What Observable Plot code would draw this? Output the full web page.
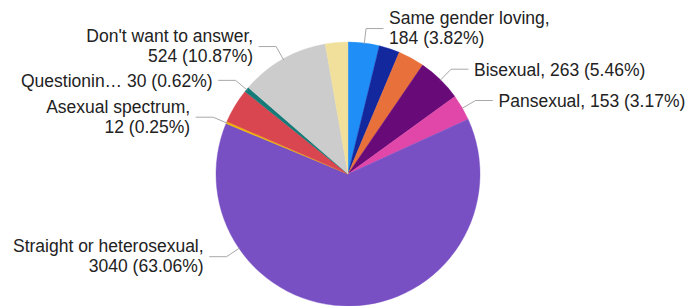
<!DOCTYPE html>
<html><head><meta charset="utf-8">
<script src="https://cdn.jsdelivr.net/npm/d3@7"></script>
<script src="https://cdn.jsdelivr.net/npm/@observablehq/plot@0.6"></script>
<style>html,body{margin:0;padding:0;background:#fff}svg{display:block}</style>
</head><body><div id="chart"></div>
<script>
// Slices in clockwise order from 12 o'clock
const categories = ["Same gender loving", "Other (dark blue)", "Other (orange)", "Bisexual", "Pansexual",
  "Straight or heterosexual", "Asexual spectrum", "Other (red)", "Questioning", "Don't want to answer", "Other (beige)"];
const values = [184, 122, 155, 263, 153, 3040, 12, 205, 30, 524, 133];
const colors = ["#1f8ef7", "#14289e", "#e8703a", "#680a78", "#e047a8",
  "#7850c4", "#f0b400", "#d9464f", "#167a78", "#cccccc", "#f0e09c"];
// Label names (null = no label); "\n" marks a line break before the value
const labelNames = ["Same gender loving,\n", null, null, "Bisexual, ", "Pansexual, ",
  "Straight or heterosexual,\n", "Asexual spectrum,\n", null, "Questionin… ", "Don't want to answer,\n", null];
// Leader angle override (degrees, clockwise from top) where the label is moved
const leaderAngle = {5: 236};

const cx = 348, cy = 174, r = 132, elbowOut = 15, tail = 17, gap = 6;

const total = d3.sum(values);
const arcs = d3.pie().sort(null).value(d => d)(values);

const leaders = [], labels = [];
arcs.forEach((a, i) => {
  if (!labelNames[i]) return;
  const th = leaderAngle[i] != null ? leaderAngle[i] * Math.PI / 180 : (a.startAngle + a.endAngle) / 2;
  const s = Math.sin(th), c = Math.cos(th);
  const right = s > 0;
  const p0 = [cx + r * s, cy - r * c];
  const p1 = [cx + (r + elbowOut) * s, cy - (r + elbowOut) * c];
  const p2 = [p1[0] + (right ? tail : -tail), p1[1]];
  [p0, p1, p2].forEach(p => leaders.push({id: i, x: p[0], y: p[1]}));
  const pct = (values[i] / total * 100).toFixed(2);
  labels.push({
    x: p2[0] + (right ? gap : -gap), y: p2[1] + (labelNames[i].includes("\n") ? -1 : 0),
    text: labelNames[i] + values[i] + " (" + pct + "%)",
    anchor: right ? "start" : "end"
  });
});

function pieMark(index, scales) {
  const sx = scales.x, sy = scales.y;
  const px = sx(cx), py = sy(cy), pr = sx(cx + r) - sx(cx);
  const arc = d3.arc().innerRadius(0).outerRadius(pr);
  const g = d3.create("svg:g").attr("transform", `translate(${px},${py})`);
  g.selectAll("path").data(arcs).join("path")
    .attr("d", arc)
    .attr("fill", (d, i) => colors[i])
    .attr("stroke", (d, i) => colors[i])
    .attr("stroke-width", 0.4);
  return g.node();
}

const chart = Plot.plot({
  width: 690, height: 306, margin: 0,
  style: {fontFamily: "'Liberation Sans', Arial, sans-serif", background: "#fff"},
  x: {domain: [0, 690], range: [0, 690], axis: null},
  y: {domain: [0, 306], range: [0, 306], axis: null},
  marks: [
    pieMark,
    Plot.line(leaders, {x: "x", y: "y", z: "id", stroke: "#a8a8a8", strokeWidth: 1}),
    Plot.text(labels.filter(d => d.anchor === "start"), {x: "x", y: "y", text: "text", textAnchor: "start",
      fontSize: 17.5, lineHeight: 1.14, fill: "#222"}),
    Plot.text(labels.filter(d => d.anchor === "end"), {x: "x", y: "y", text: "text", textAnchor: "end",
      fontSize: 17.5, lineHeight: 1.14, fill: "#222"})
  ]
});
document.getElementById("chart").appendChild(chart);
</script>
</body></html>
